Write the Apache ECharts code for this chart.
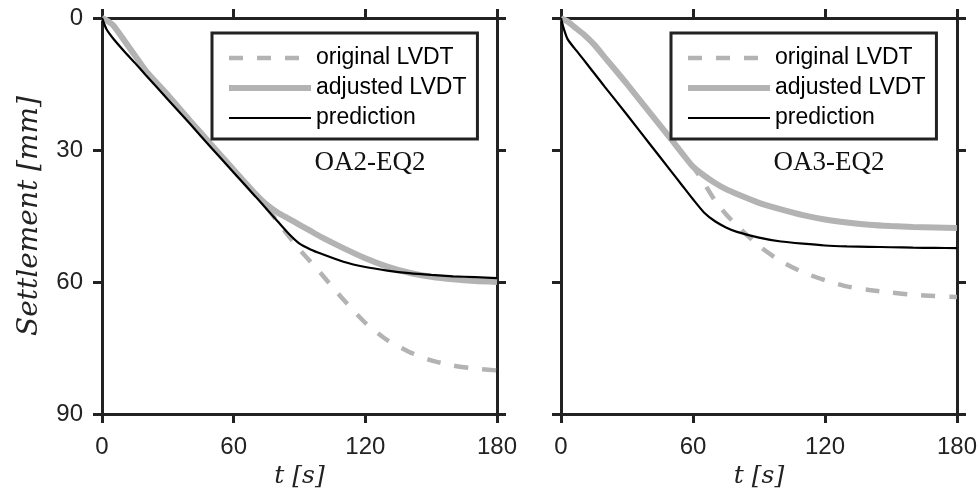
<!DOCTYPE html>
<html>
<head>
<meta charset="UTF-8"/>
<script src="https://cdn.jsdelivr.net/npm/echarts@6/dist/echarts.min.js"></script>
<style>html,body{margin:0;background:#fff}#c{width:980px;height:501px}</style>
</head>
<body>
<div id="c"></div>
<script>
// time axis ticks and settlement axis ticks
const xTicks = [0, 60, 120, 180];
const yTicks = [0, 30, 60, 90];
const seriesNames = ["original LVDT", "adjusted LVDT", "prediction"];
const panelNames = ["OA2-EQ2", "OA3-EQ2"];

// OA2-EQ2 (left)
const tOA2 = [0, 2, 5, 10, 15, 20, 30, 40, 50, 60, 70, 75, 80, 85, 90, 95, 100, 110, 120, 130, 140, 150, 160, 170, 180];
const origOA2 = [0, 0.5, 1.6, 5, 8.5, 12, 17.5, 23.3, 28.9, 34.5, 40, 43, 46.3, 49.5, 52.6, 55.4, 58.2, 64, 69.3, 73.2, 75.9, 77.8, 79, 79.7, 80.1];
const adjOA2 = [0, 0.5, 1.6, 5, 8.5, 12, 17.5, 23.3, 28.9, 34.5, 40, 42.4, 44.2, 45.6, 47, 48.4, 49.8, 52.3, 54.6, 56.5, 57.9, 58.8, 59.4, 59.8, 60];
const predOA2 = [0, 2.5, 4.6, 7.5, 10.2, 13, 18.5, 24, 29.6, 35.1, 40.6, 43.4, 46.2, 49, 51.3, 52.6, 53.6, 55.4, 56.6, 57.4, 58, 58.4, 58.7, 58.9, 59.1];

// OA3-EQ2 (right)
const tOA3 = [0, 1, 3, 6, 10, 15, 20, 30, 40, 50, 55, 60, 65, 70, 75, 80, 90, 100, 110, 120, 130, 140, 150, 160, 170, 180];
const origOA3 = [0, 0.3, 0.8, 2, 3.6, 6, 9, 15, 21.3, 27.5, 30.7, 33.8, 37.5, 41.5, 44.6, 47.2, 51.8, 55.3, 57.8, 59.6, 61, 61.8, 62.4, 62.9, 63.2, 63.4];
const adjOA3 = [0, 0.3, 0.8, 2, 3.6, 6, 9, 15, 21.3, 27.5, 30.7, 33.8, 35.8, 37.5, 38.9, 40, 42, 43.5, 44.8, 45.8, 46.5, 47, 47.3, 47.5, 47.6, 47.7];
const predOA3 = [0, 2, 4.8, 6.8, 9.3, 12.5, 15.7, 22, 28.4, 34.8, 38, 41.2, 44.2, 46.2, 47.6, 48.6, 49.9, 50.8, 51.3, 51.7, 51.9, 52, 52.1, 52.2, 52.25, 52.3];

const panels = [
    { t: tOA2, vals: [origOA2, adjOA2, predOA2] },
    { t: tOA3, vals: [origOA3, adjOA3, predOA3] }
];

const AX = "#222";
const SANS = "Liberation Sans";
const grids = [
    { left: 102, top: 18, width: 395, height: 396 },
    { left: 561, top: 18, width: 396, height: 396 }
];
const lineStyles = [
    { color: "#b3b3b3", width: 4.5, type: [14, 14] },
    { color: "#b3b3b3", width: 6, type: "solid" },
    { color: "#000", width: 2.2, type: "solid" }
];

function frame(extra) {
    return Object.assign({
        axisLine: { show: true, onZero: false, lineStyle: { color: AX, width: 3 } },
        axisTick: { show: true, inside: false, length: 9, lineStyle: { color: AX, width: 3 } },
        splitLine: { show: false }
    }, extra);
}

const xAxis = [], yAxis = [], series = [], legend = [], graphic = [];
grids.forEach((g, i) => {
    xAxis.push(frame({
        type: "value", gridIndex: i, position: "bottom",
        min: xTicks[0], max: xTicks[xTicks.length - 1], interval: xTicks[1] - xTicks[0],
        axisLabel: { fontSize: 24, fontFamily: SANS, color: "#222", margin: 21 },
        name: "t [s]", nameLocation: "middle", nameGap: 46,
        nameTextStyle: { fontFamily: "DejaVu Serif", fontStyle: "italic", fontSize: 25, color: "#222" }
    }));
    xAxis.push(frame({
        type: "value", gridIndex: i, position: "top",
        min: xTicks[0], max: xTicks[xTicks.length - 1], interval: xTicks[1] - xTicks[0],
        axisLabel: { show: false }
    }));
    yAxis.push(frame({
        type: "value", gridIndex: i, position: "left", inverse: true,
        min: yTicks[0], max: yTicks[yTicks.length - 1], interval: yTicks[1] - yTicks[0],
        axisLabel: { show: i === 0, fontSize: 24, fontFamily: SANS, color: "#222", margin: 19 },
        name: i === 0 ? "Settlement [mm]" : "", nameLocation: "middle", nameGap: 58, nameRotate: 90,
        nameTextStyle: { fontFamily: "DejaVu Serif", fontStyle: "italic", fontSize: 28, color: "#222" }
    }));
    yAxis.push(frame({
        type: "value", gridIndex: i, position: "right", inverse: true,
        min: yTicks[0], max: yTicks[yTicks.length - 1], interval: yTicks[1] - yTicks[0],
        axisLabel: { show: false }
    }));

    const p = panels[i];
    seriesNames.forEach((name, k) => {
        series.push({
            type: "line", name: name,
            xAxisIndex: i * 2, yAxisIndex: i * 2,
            data: p.t.map((t, j) => [t, p.vals[k][j]]),
            symbol: "none", smooth: 0.2,
            lineStyle: lineStyles[k],
            z: 2 + k, silent: true
        });
    });

    legend.push({
        left: g.left + 110, top: 33, orient: "vertical",
        data: seriesNames.map((n, k) => ({ name: n, lineStyle: { width: lineStyles[k].width } })),
        itemWidth: 82, itemHeight: 14, itemGap: 4,
        padding: [12, 11, 8, 14],
        backgroundColor: "#fff", borderColor: AX, borderWidth: 3,
        lineStyle: { width: "inherit" },
        itemStyle: { color: "rgba(0,0,0,0)", borderWidth: 0, opacity: 0 },
        textStyle: { fontSize: 23, fontFamily: SANS, color: "#000", lineHeight: 26 },
        selectedMode: false
    });

    graphic.push({
        type: "text", x: g.left + 268, y: 163,
        style: {
            text: panelNames[i], font: "27px 'Liberation Serif'", fill: "#111",
            align: "center", verticalAlign: "middle", textAlign: "center", textVerticalAlign: "middle"
        }
    });
});

const chart = echarts.init(document.getElementById("c"), null, { renderer: "canvas" });
chart.setOption({
    animation: false,
    backgroundColor: "#fff",
    grid: grids,
    xAxis: xAxis,
    yAxis: yAxis,
    legend: legend,
    graphic: graphic,
    series: series
});
</script>
</body>
</html>
